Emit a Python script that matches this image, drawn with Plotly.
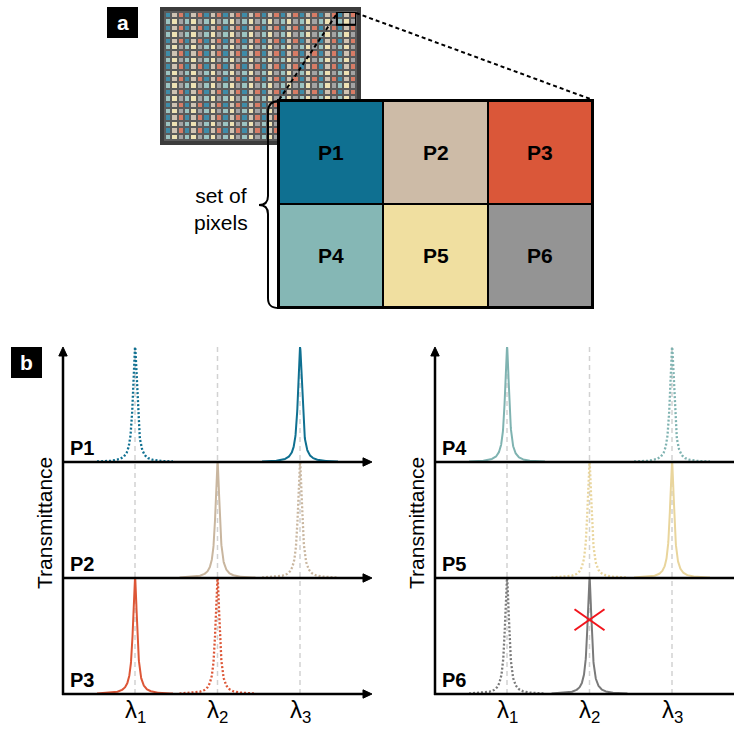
import numpy as np
import plotly.graph_objects as go

W, H = 734, 729
FONT = "Liberation Sans, Arial, sans-serif"

# ---------------- data ----------------
PIXELS = ["P1", "P2", "P3", "P4", "P5", "P6"]
PIXEL_COLORS = ["#0F7091", "#CDBBA7", "#DA5739", "#85B7B5", "#F0DFA0", "#949494"]
LINE_COLORS = ["#0F7091", "#C9B69F", "#DD5636", "#7FB3B1", "#E9D59C", "#7A7A7A"]
MOSAIC_COLORS = ["#3F8CA8", "#CFC3B3", "#D77C66", "#9CC4C2", "#EEE2B4", "#A4A4A4"]

BANDS = [1, 2, 3]
BAND_LABELS = ["λ<sub>1</sub>", "λ<sub>2</sub>", "λ<sub>3</sub>"]
PASS_BAND = [3, 2, 1, 1, 3, 2]    # solid transmission peak of each pixel
LEAK_BAND = [1, 3, 2, 3, 2, 1]    # dotted secondary peak of each pixel
BLOCKED_PIXEL = "P6"
BLOCKED_BAND = 2
BLOCKED_LEVEL = 0.64

TILE = [[0, 1, 2], [3, 4, 5]]     # 3x2 super-pixel layout
MOSAIC_ROWS, MOSAIC_COLS = 20, 30

GAMMA = 0.03      # half width of the filter line shape (wavelength units)
SPAN = 0.46       # extent of each drawn peak

# ---------------- helpers ----------------
def X(p):
    return p / W


def Y(p):
    return 1 - p / H


def path(points, cmds, close=False):
    out = []
    k = 0
    for c in cmds:
        n = {"M": 1, "L": 1, "C": 3}[c]
        seg = " ".join(f"{X(px):.5f},{Y(py):.5f}" for px, py in points[k:k + n])
        out.append(f"{c} {seg}")
        k += n
    s = " ".join(out)
    return s + " Z" if close else s


def arrow_head(tx, ty, direction, length=9, half=4.2):
    if direction == "up":
        pts = [(tx, ty), (tx - half, ty + length), (tx + half, ty + length)]
    else:  # right
        pts = [(tx, ty), (tx - length, ty - half), (tx - length, ty + half)]
    return dict(type="path", xref="paper", yref="paper",
                path=path(pts, ["M", "L", "L"], close=True),
                fillcolor="black", line=dict(color="black", width=1))


fig = go.Figure()
shapes, annotations = [], []
layout_axes = {}

# ---------------- panel b : transmittance curves ----------------
UNIT = 82.5                      # pixels per band spacing
XMIN = 1 - 72 / UNIT
COLS = [dict(x0=63, x1=372), dict(x0=435, x1=734)]
BASES = [462, 578, 694]
TOPS = [347, 462, 578]

offs = np.linspace(-SPAN, SPAN, 461)
shape_profile = 1.0 / (1.0 + (offs / GAMMA) ** 2)

for i, name in enumerate(PIXELS):
    c, r = divmod(i, 3)
    n = i + 1
    sx = "" if n == 1 else str(n)
    col = COLS[c]
    layout_axes[f"xaxis{sx}"] = dict(
        domain=[X(col["x0"]), min(1.0, X(col["x1"]))],
        range=[XMIN, XMIN + (min(col["x1"], W) - col["x0"]) / UNIT],
        visible=False, anchor=f"y{sx}", fixedrange=True,
    )
    layout_axes[f"yaxis{sx}"] = dict(
        domain=[Y(BASES[r]), Y(TOPS[r])], range=[0, 1],
        visible=False, anchor=f"x{sx}", fixedrange=True,
    )
    fig.add_trace(go.Scatter(
        x=LEAK_BAND[i] + offs, y=shape_profile, mode="lines",
        line=dict(color=LINE_COLORS[i], width=2.3, dash="2px,2px"),
        xaxis=f"x{sx}", yaxis=f"y{sx}", hoverinfo="skip",
    ))
    fig.add_trace(go.Scatter(
        x=PASS_BAND[i] + offs, y=shape_profile, mode="lines",
        line=dict(color=LINE_COLORS[i], width=2),
        xaxis=f"x{sx}", yaxis=f"y{sx}", hoverinfo="skip",
    ))
    annotations.append(dict(
        text=f"<b>{name}</b>", x=X(col["x0"] + 5), y=Y(BASES[r] - 1),
        xref="paper", yref="paper", xanchor="left", yanchor="bottom",
        showarrow=False, font=dict(family=FONT, size=20, color="black"),
    ))

# red cross over the blocked band
bi = PIXELS.index(BLOCKED_PIXEL) + 1
dx, dy = 15 / UNIT, 10.5 / 116
fig.add_trace(go.Scatter(
    x=[BLOCKED_BAND - dx, BLOCKED_BAND + dx, None, BLOCKED_BAND - dx, BLOCKED_BAND + dx],
    y=[BLOCKED_LEVEL - dy, BLOCKED_LEVEL + dy, None, BLOCKED_LEVEL + dy, BLOCKED_LEVEL - dy],
    mode="lines", line=dict(color="#F2141C", width=2),
    xaxis=f"x{bi}", yaxis=f"y{bi}", hoverinfo="skip",
))

for c, col in enumerate(COLS):
    xref = "x" if c == 0 else "x4"
    bottom_ref = "x3" if c == 0 else "x6"
    for b, lab in zip(BANDS, BAND_LABELS):
        shapes.append(dict(
            type="line", xref=xref, yref="paper", x0=b, x1=b,
            y0=Y(BASES[-1]), y1=Y(TOPS[0]), layer="below",
            line=dict(color="#D2D2D2", width=1.5, dash="5px,4px"),
        ))
        annotations.append(dict(
            text=lab, x=b, y=Y(711), xref=bottom_ref, yref="paper",
            xanchor="center", yanchor="middle", showarrow=False,
            font=dict(family=FONT, size=24, color="black"),
        ))
    # vertical axis with arrow
    shapes.append(dict(type="line", xref="paper", yref="paper",
                       x0=X(col["x0"]), x1=X(col["x0"]),
                       y0=Y(BASES[-1] + 1), y1=Y(TOPS[0] + 6),
                       line=dict(color="black", width=2.5)))
    shapes.append(arrow_head(col["x0"], TOPS[0], "up"))
    # horizontal axes with arrows
    x_end = min(col["x1"], W)
    for base in BASES:
        tip_visible = col["x1"] < W
        shapes.append(dict(
            type="line", xref="paper", yref="paper",
            x0=X(col["x0"] - 1), x1=X(x_end - 6 if tip_visible else x_end),
            y0=Y(base), y1=Y(base),
            line=dict(color="black", width=2.5),
        ))
        if tip_visible:
            shapes.append(arrow_head(col["x1"], base, "right"))
    annotations.append(dict(
        text="Transmittance", x=X(col["x0"] - 19), y=Y(523),
        xref="paper", yref="paper", textangle=-90, showarrow=False,
        xanchor="center", yanchor="middle",
        font=dict(family=FONT, size=21, color="#000000"),
    ))

# ---------------- panel a : sensor mosaic ----------------
shapes.append(dict(type="rect", xref="paper", yref="paper",
                   x0=X(160), x1=X(361), y0=Y(145), y1=Y(7),
                   fillcolor="#3C3C3C", line=dict(width=0), layer="below"))
shapes.append(dict(type="rect", xref="paper", yref="paper",
                   x0=X(164), x1=X(357), y0=Y(141), y1=Y(11),
                   fillcolor="#5B5B5B", line=dict(width=0), layer="below"))

mosaic = [[TILE[r % 2][c % 3] for c in range(MOSAIC_COLS)] for r in range(MOSAIC_ROWS)]


def discrete_scale(colors):
    n = len(colors)
    scale = []
    for k, col in enumerate(colors):
        scale.append([k / n, col])
        scale.append([(k + 1) / n, col])
    return scale


fig.add_trace(go.Heatmap(
    z=mosaic, zmin=-0.5, zmax=5.5, colorscale=discrete_scale(MOSAIC_COLORS),
    showscale=False, xgap=2, ygap=2, xaxis="x7", yaxis="y7", hoverinfo="skip",
))
layout_axes["xaxis7"] = dict(domain=[X(165), X(356)], range=[-0.5, MOSAIC_COLS - 0.5],
                             visible=False, anchor="y7", fixedrange=True)
layout_axes["yaxis7"] = dict(domain=[Y(140), Y(12)], range=[MOSAIC_ROWS - 0.5, -0.5],
                             visible=False, anchor="x7", fixedrange=True)

# highlighted super-pixel
shapes.append(dict(type="rect", xref="x7", yref="y7",
                   x0=MOSAIC_COLS - 3.5, x1=MOSAIC_COLS - 0.5, y0=-0.5, y1=1.5,
                   line=dict(color="black", width=2)))

# zoom-in lines
shapes.append(dict(type="line", xref="paper", yref="paper",
                   x0=X(336), y0=Y(15), x1=X(279), y1=Y(100),
                   line=dict(color="black", width=2, dash="4px,3px")))
shapes.append(dict(type="line", xref="paper", yref="paper",
                   x0=X(356), y0=Y(13), x1=X(593), y1=Y(100),
                   line=dict(color="black", width=2, dash="4px,3px")))

# enlarged super-pixel
shapes.append(dict(type="rect", xref="paper", yref="paper",
                   x0=X(278), x1=X(593), y0=Y(308), y1=Y(100),
                   fillcolor="black", line=dict(width=0), layer="below"))
fig.add_trace(go.Heatmap(
    z=TILE, zmin=-0.5, zmax=5.5, colorscale=discrete_scale(PIXEL_COLORS),
    showscale=False, xgap=2, ygap=2, xaxis="x8", yaxis="y8", hoverinfo="skip",
))
layout_axes["xaxis8"] = dict(domain=[X(279), X(592)], range=[-0.5, 2.5],
                             visible=False, anchor="y8", fixedrange=True)
layout_axes["yaxis8"] = dict(domain=[Y(307), Y(101)], range=[1.5, -0.5],
                             visible=False, anchor="x8", fixedrange=True)
shapes.append(dict(type="rect", xref="paper", yref="paper",
                   x0=X(278), x1=X(593), y0=Y(308), y1=Y(100),
                   line=dict(color="black", width=2)))
for r, row in enumerate(TILE):
    for c, k in enumerate(row):
        annotations.append(dict(
            text=f"<b>{PIXELS[k]}</b>", x=c, y=r, xref="x8", yref="y8",
            showarrow=False, font=dict(family=FONT, size=21, color="black"),
        ))

# curly brace with label
brace_pts = [(279, 101),
             (271, 101), (268, 105), (268, 112),
             (268, 196),
             (268, 202), (265, 205), (259, 205),
             (265, 205), (268, 208), (268, 214),
             (268, 298),
             (268, 305), (271, 308), (279, 308)]
shapes.append(dict(type="path", xref="paper", yref="paper",
                   path=path(brace_pts, ["M", "C", "L", "C", "C", "L", "C"]),
                   line=dict(color="black", width=2)))
annotations.append(dict(
    text="set of<br>pixels", x=X(221), y=Y(209), xref="paper", yref="paper",
    showarrow=False, xanchor="center", yanchor="middle", align="center",
    font=dict(family=FONT, size=21, color="black"),
))

# panel letters
for letter, (lx, ly) in {"a": (107, 7), "b": (11, 347)}.items():
    shapes.append(dict(type="rect", xref="paper", yref="paper",
                       x0=X(lx), x1=X(lx + 31), y0=Y(ly + 31), y1=Y(ly),
                       fillcolor="black", line=dict(width=0)))
    annotations.append(dict(
        text=f"<b>{letter}</b>", x=X(lx + 15.5), y=Y(ly + 15.5),
        xref="paper", yref="paper", showarrow=False,
        xanchor="center", yanchor="middle",
        font=dict(family=FONT, size=21, color="white"),
    ))

fig.update_layout(
    width=W, height=H, margin=dict(l=0, r=0, t=0, b=0),
    paper_bgcolor="white", plot_bgcolor="rgba(0,0,0,0)",
    showlegend=False, shapes=shapes, annotations=annotations,
    **layout_axes,
)

fig.write_html("out.html", config={"displayModeBar": False})
